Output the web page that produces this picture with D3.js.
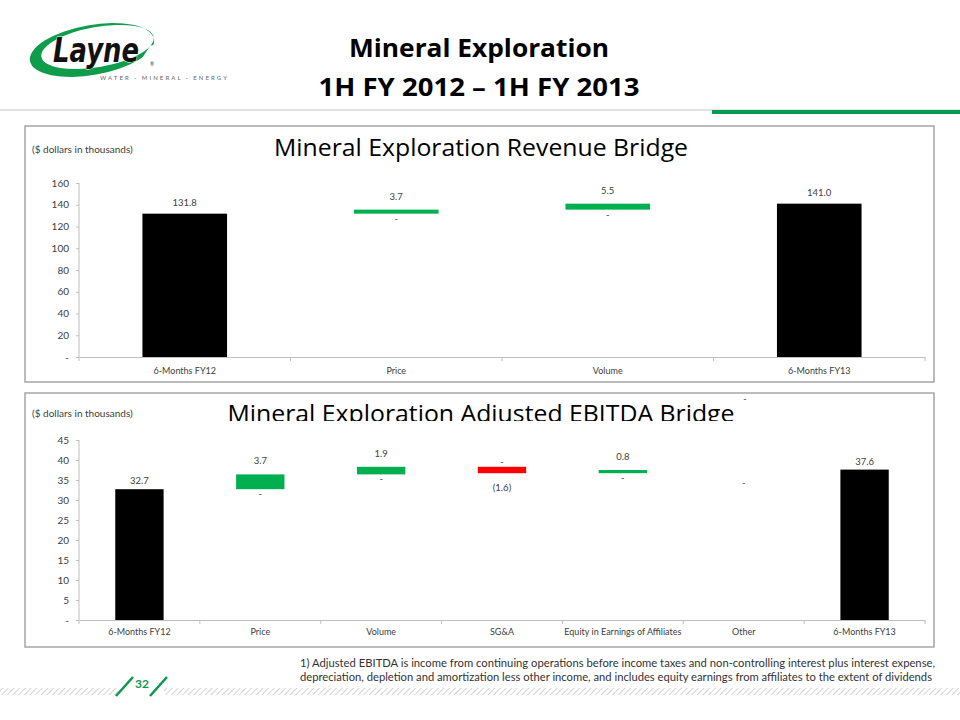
<!DOCTYPE html>
<html><head><meta charset="utf-8">
<script src="https://cdn.jsdelivr.net/npm/d3@7"></script>
<style>body{margin:0;background:#fff}svg{display:block}</style>
</head><body><svg id="c" width="960" height="720"></svg>
<script>
// ---------- data ----------
const pageTitle = ["Mineral Exploration", "1H FY 2012 \u2013 1H FY 2013"];
const unitsNote = "($ dollars in thousands)";

const revTitle = "Mineral Exploration Revenue Bridge";
const revCategories = ["6-Months FY12", "Price", "Volume", "6-Months FY13"];
const revValues = [131.8, 3.7, 5.5, 141.0];
const revKinds = ["total", "delta", "delta", "total"];
const revTicks = [0, 20, 40, 60, 80, 100, 120, 140, 160];

const ebTitle = "Mineral Exploration Adjusted EBITDA Bridge";
const ebCategories = ["6-Months FY12", "Price", "Volume", "SG&A", "Equity in Earnings of Affiliates", "Other", "6-Months FY13"];
const ebValues = [32.7, 3.7, 1.9, -1.6, 0.8, 0, 37.6];
const ebKinds = ["total", "delta", "delta", "delta", "delta", "delta", "total"];
const ebTicks = [0, 5, 10, 15, 20, 25, 30, 35, 40, 45];

const footnoteLines = [
  "1)  Adjusted EBITDA is income from continuing operations before income taxes and non-controlling interest plus interest expense,",
  "depreciation, depletion and amortization less other income, and includes equity earnings from affiliates to the extent  of dividends"
];
const pageNumber = "32";

// ---------- styles ----------
const GREEN = "#00b050", RED = "#ff0000", LOGO_GREEN = "#0f9d4c";
const TXT = "#404040", AXIS = "#bfbfbf";
const smallFont = "Lato, 'Open Sans', sans-serif";

const svg = d3.select("#c");
const defs = svg.append("defs");

// ---------- header ----------
const logo = svg.append("g");
defs.append("clipPath").attr("id", "swooshClip").append("path")
  .attr("d", "M0,0 L200,0 L200,52 L150,56 L118,90 L0,90 Z");
logo.append("path")
  .attr("clip-path", "url(#swooshClip)")
  .attr("fill", LOGO_GREEN).attr("fill-rule", "evenodd")
  .attr("d", (() => {
    const ell = (cx, cy, rx, ry) => `M${cx - rx},${cy} A${rx},${ry} 0 1,0 ${cx + rx},${cy} A${rx},${ry} 0 1,0 ${cx - rx},${cy} Z`;
    return ell(92, 50, 63, 25) + " " + ell(98, 48, 57, 20);
  })())
  .attr("transform", "rotate(-10 92 50)");
logo.append("text").attr("transform", "translate(53,62) scale(1,1.25)")
  .attr("font-family", "'DejaVu Sans', sans-serif").attr("font-weight", 700).attr("font-style", "italic")
  .attr("font-size", 27).attr("fill", "#111").attr("stroke", "#fff").attr("stroke-width", 0.8)
  .attr("paint-order", "stroke")
  .attr("textLength", 86).attr("lengthAdjust", "spacingAndGlyphs")
  .text("Layne");
logo.append("text").attr("x", 150).attr("y", 66).attr("font-size", 5).attr("fill", "#333")
  .attr("font-family", smallFont).text("\u00AE");
logo.append("text").attr("x", 100).attr("y", 80)
  .attr("font-family", smallFont).attr("font-size", 6).attr("fill", "#666")
  .attr("textLength", 127).attr("lengthAdjust", "spacing")
  .text("WATER \u00B7 MINERAL \u00B7 ENERGY");

svg.append("text").attr("x", 479).attr("y", 57).attr("text-anchor", "middle")
  .attr("font-family", "'Open Sans', sans-serif").attr("font-weight", 700).attr("font-size", 25)
  .attr("fill", "#000").attr("textLength", 260).attr("lengthAdjust", "spacingAndGlyphs").text(pageTitle[0]);
svg.append("text").attr("x", 479).attr("y", 96).attr("text-anchor", "middle")
  .attr("font-family", "'Open Sans', sans-serif").attr("font-weight", 700).attr("font-size", 25)
  .attr("fill", "#000").attr("textLength", 321).attr("lengthAdjust", "spacingAndGlyphs").text(pageTitle[1]);

svg.append("line").attr("x1", 0).attr("x2", 960).attr("y1", 110).attr("y2", 110)
  .attr("stroke", "#d9d9d9").attr("stroke-width", 1.5);
svg.append("line").attr("x1", 712).attr("x2", 960).attr("y1", 112).attr("y2", 112)
  .attr("stroke", "#0a9a4f").attr("stroke-width", 4);

// ---------- bridge chart ----------
function bridge(cfg) {
  const g = svg.append("g");
  g.append("rect").attr("x", cfg.box[0]).attr("y", cfg.box[1]).attr("width", cfg.box[2]).attr("height", cfg.box[3])
    .attr("fill", "#fff").attr("stroke", "#a6a6a6").attr("stroke-width", 1.5);

  g.append("text").attr("x", 32).attr("y", cfg.noteY).attr("font-family", smallFont)
    .attr("font-size", 10).attr("fill", TXT).text(unitsNote);

  const titleG = g.append("g");
  if (cfg.clipTitle) {
    defs.append("clipPath").attr("id", cfg.id + "clip").append("rect")
      .attr("x", 26).attr("y", cfg.box[1] + 1).attr("width", 900).attr("height", cfg.clipTitle);
    titleG.attr("clip-path", `url(#${cfg.id}clip)`);
  }
  titleG.append("text").attr("x", cfg.titleX).attr("y", cfg.titleY).attr("text-anchor", "middle")
    .attr("font-family", "'Open Sans', sans-serif").attr("font-size", 23).attr("fill", "#000")
    .attr("textLength", cfg.titleW).attr("lengthAdjust", "spacingAndGlyphs").text(cfg.title);

  const x = d3.scaleBand().domain(cfg.categories).range(cfg.xr).paddingInner(0.6).paddingOuter(0.3);
  const y = d3.scaleLinear().domain([0, d3.max(cfg.ticks)]).range(cfg.yr);

  let run = 0;
  const items = cfg.categories.map((c, i) => {
    const v = cfg.values[i], k = cfg.kinds[i];
    let lo, hi;
    if (k === "total") { lo = 0; hi = v; run = v; }
    else { lo = Math.min(run, run + v); hi = Math.max(run, run + v); run += v; }
    return { c, v, k, lo, hi, run };
  });

  const ya = g.append("g").attr("transform", `translate(${cfg.xr[0]},0)`)
    .call(d3.axisLeft(y).tickValues(cfg.ticks).tickSize(3).tickPadding(7)
      .tickFormat(d => d === 0 ? "-" : d));
  ya.select(".domain").attr("stroke", AXIS).attr("d", `M0,${cfg.yr[0]}V${cfg.yr[1]}`);
  ya.selectAll(".tick line").attr("stroke", AXIS);
  ya.selectAll("text").attr("font-family", smallFont).attr("font-size", 10).attr("fill", TXT);

  const xa = g.append("g").attr("transform", `translate(0,${cfg.yr[0]})`)
    .call(d3.axisBottom(x).tickSize(0).tickPadding(cfg.xPad));
  xa.select(".domain").attr("stroke", AXIS);
  xa.selectAll("text").attr("font-family", smallFont).attr("font-size", 9).attr("fill", TXT);
  xa.selectAll(".sep").data(d3.range(cfg.categories.length + 1)).enter().append("line")
    .attr("x1", i => cfg.xr[0] + i * x.step()).attr("x2", i => cfg.xr[0] + i * x.step())
    .attr("y1", 0).attr("y2", 4).attr("stroke", AXIS);

  g.selectAll(".bar").data(items.filter(d => d.hi > d.lo)).enter().append("rect")
    .attr("x", d => x(d.c)).attr("width", x.bandwidth())
    .attr("y", d => y(d.hi)).attr("height", d => y(d.lo) - y(d.hi))
    .attr("fill", d => d.k === "total" ? "#000" : (d.v < 0 ? RED : GREEN));

  const fmt = v => v < 0 ? `(${Math.abs(v).toFixed(1)})` : v.toFixed(1);
  const lab = (xx, yy, t) => g.append("text").attr("x", xx).attr("y", yy).attr("text-anchor", "middle")
    .attr("font-family", smallFont).attr("font-size", 9.5).attr("fill", TXT).text(t);

  items.forEach(d => {
    const cx = x(d.c) + x.bandwidth() / 2;
    if (d.k === "total") { lab(cx, y(d.hi) - cfg.totOff, fmt(d.v)); return; }
    if (d.v > 0) {
      lab(cx, y(d.hi) - cfg.deltaOff, fmt(d.v));
      lab(cx, y(d.lo) + 8, "-");
    } else if (d.v < 0) {
      lab(cx, y(d.hi) - 2, "-");
      lab(cx, y(d.lo) + 18, fmt(d.v));
    } else {
      lab(cx, y(d.run) + 16, "-");
    }
  });
  return g;
}

bridge({
  id: "rev", box: [25, 126, 909, 256], noteY: 153,
  title: revTitle, titleX: 481, titleY: 156, titleW: 414,
  categories: revCategories, values: revValues, kinds: revKinds, ticks: revTicks,
  xr: [79, 925], yr: [357, 183], xPad: 11, totOff: 8, deltaOff: 10
});
const eb = bridge({
  id: "eb", box: [25, 393, 909, 254], noteY: 417, clipTitle: 27,
  title: ebTitle, titleX: 481, titleY: 422, titleW: 507,
  categories: ebCategories, values: ebValues, kinds: ebKinds, ticks: ebTicks,
  xr: [79, 925], yr: [620, 440], xPad: 9, totOff: 5, deltaOff: 10
});
eb.append("text").attr("x", 745).attr("y", 402).attr("text-anchor", "middle")
  .attr("font-family", smallFont).attr("font-size", 9).attr("fill", TXT).text("-");

// ---------- footer ----------
const pat = defs.append("pattern").attr("id", "hatch").attr("patternUnits", "userSpaceOnUse")
  .attr("width", 4).attr("height", 4).attr("patternTransform", "rotate(45)");
pat.append("rect").attr("width", 4).attr("height", 4).attr("fill", "#fff");
pat.append("line").attr("x1", 0).attr("y1", 0).attr("x2", 0).attr("y2", 4)
  .attr("stroke", "#d4d4d4").attr("stroke-width", 2);
svg.append("rect").attr("x", 0).attr("y", 688).attr("width", 960).attr("height", 7).attr("fill", "url(#hatch)");

footnoteLines.forEach((t, i) => {
  svg.append("text").attr("x", 300).attr("y", 667 + i * 14)
    .attr("font-family", smallFont).attr("font-size", 10.5).attr("fill", "#333")
    .attr("textLength", i === 0 ? 635 : 632).attr("lengthAdjust", "spacingAndGlyphs").text(t);
});

const pn = svg.append("g");
pn.append("rect").attr("x", 118).attr("y", 675).attr("width", 46).attr("height", 20).attr("fill", "#fff");
pn.append("line").attr("x1", 116).attr("y1", 696).attr("x2", 133).attr("y2", 677)
  .attr("stroke", "#0a9a4f").attr("stroke-width", 2.5);
pn.append("line").attr("x1", 150).attr("y1", 696).attr("x2", 167).attr("y2", 677)
  .attr("stroke", "#0a9a4f").attr("stroke-width", 2.5);
pn.append("text").attr("x", 142).attr("y", 688).attr("text-anchor", "middle")
  .attr("font-family", smallFont).attr("font-weight", 700).attr("font-size", 12).attr("fill", "#0a9a4f")
  .text(pageNumber);
</script></body></html>
